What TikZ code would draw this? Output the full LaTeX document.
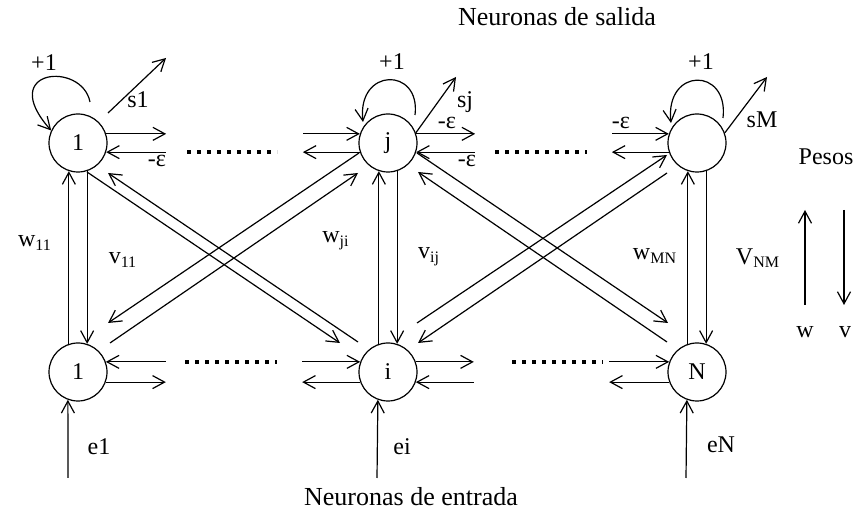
\documentclass[tikz,border=0pt]{standalone}
\usepackage{fontspec}
\setmainfont{Liberation Serif}
\usetikzlibrary{arrows.meta, calc}

\begin{document}
\begin{tikzpicture}[
        x=0.5pt, y=0.5pt,
        line width=0.6pt,
        >={Straight Barb[length=6pt,width=6.5pt]},
        neuron/.style={circle, draw, minimum size=29pt, inner sep=0pt, font=\fontsize{12}{14}\selectfont},
        lbl/.style={inner sep=1pt, font=\fontsize{12}{14}\selectfont},
        title/.style={inner sep=1pt, font=\fontsize{13}{15}\selectfont},
        dots/.style={line width=2pt, dash pattern=on 2pt off 3pt}
    ]
    \useasboundingbox (0,0) rectangle (856,513);

    % Neurons
    \node[neuron] (o1) at (78,370) {1};
    \node[neuron] (oj) at (388,370) {j};
    \node[neuron] (oM) at (697,370) {};
    \node[neuron] (i1) at (78,141) {1};
    \node[neuron] (ii) at (388,141) {i};
    \node[neuron] (iN) at (697,141) {N};

    % Titles
    \node[title] (salida) at (557,496) {Neuronas de salida};
    \node[title] (entrada) at (411,16) {Neuronas de entrada};

    % Vertical weights
    \foreach \a/\b in {o1/i1, oj/ii, oM/iN} {
        \draw[->] (\b.108) -- (\a.-108);
        \draw[->] (\a.-72) -- (\b.72);
    }
    \node[lbl] at (35,270) {w\textsubscript{11}};
    \node[lbl] at (123,253) {v\textsubscript{11}};
    \node[lbl] at (336,272) {w\textsubscript{ji}};
    \node[lbl] at (429,256) {v\textsubscript{ij}};
    \node[lbl] at (655,257) {w\textsubscript{MN}};
    \node[lbl] at (758,255) {V\textsubscript{NM}};

    % Crossed weights
    \draw[->] ($(o1)+(9,-29)$) -- ($(ii)+(-48,29)$);
    \draw[->] ($(ii)+(-30,30)$) -- ($(o1)+(30,-30)$);
    \draw[->] ($(oj)+(-29,-10)$) -- ($(i1)+(30,49)$);
    \draw[->] ($(i1)+(32,29)$) -- ($(oj)+(-30,-30)$);
    \draw[->] ($(oj)+(29,-10)$) -- ($(iN)+(-29,49)$);
    \draw[->] ($(iN)+(-30,30)$) -- ($(oj)+(30,-29)$);
    \draw[->] ($(ii)+(29,49)$) -- ($(oM)+(-30,-12)$);
    \draw[->] ($(oM)+(-30,-30)$) -- ($(ii)+(30,29)$);

    % Lateral connections
    \foreach \n/\a/\d in {o1/18/60, oj/-162/-57, oj/18/59, oM/-162/-57,
                          i1/-20/60, ii/-160/-58, ii/20/58, iN/-160/-60}
        \draw[->] (\n.\a) -- ++(\d,0);
    \foreach \n/\a/\d in {o1/-18/60, oj/162/-57, oj/-18/59, oM/162/-57,
                          i1/20/60, ii/160/-58, ii/-20/58, iN/160/-60}
        \draw[<-] (\n.\a) -- ++(\d,0);
    \node[lbl] at (157,352) {-ε};
    \node[lbl] at (447,390) {-ε};
    \node[lbl] at (467,352) {-ε};
    \node[lbl] at (621,390) {-ε};

    \draw[dots] (187,361) -- (277,361);
    \draw[dots] (495,361) -- (587,361);
    \draw[dots] (185,151) -- (277,151);
    \draw[dots] (512,151) -- (603,151);

    % Self loops
    \draw[->] ($(o1)+(12,41)$) .. controls +(-8,41) and +(-55,62) .. (o1.155);
    \draw[->] ($(oj)+(27,28)$) .. controls +(6,48) and +(-6,55) .. ($(oj)+(-25,21)$);
    \draw[->] ($(oM)+(26,25)$) .. controls +(6,51) and +(-6,56) .. ($(oM)+(-26,20)$);
    \node[lbl] at (44,450) {+1};
    \node[lbl] at (392,451) {+1};
    \node[lbl] at (701,451) {+1};

    % Outputs
    \coordinate (s1) at (166,455);
    \coordinate (sj) at (456,436);
    \coordinate (sM) at (767,436);
    \draw[->] ($(o1)+(30,30)$) -- (s1);
    \draw[->] (oj.20) -- (sj);
    \draw[->] (oM.20) -- (sM);
    \node[lbl] at (138,413) {s1};
    \node[lbl] at (465,411) {sj};
    \node[lbl] at (762,393) {sM};

    % Inputs
    \coordinate (e1) at (68,35);
    \coordinate (ei) at (377,35);
    \coordinate (eN) at (686,35);
    \draw[->] (e1) -- (i1.-110);
    \draw[->] (ei) -- (ii.-110);
    \draw[->] (eN) -- (iN.-110);
    \node[lbl] at (99,66) {e1};
    \node[lbl] at (402,66) {ei};
    \node[lbl] at (721,68) {eN};

    % Legend
    \node[lbl] (pesos) at (826,356) {Pesos};
    \node[lbl] (legw) at (805,181) {w};
    \node[lbl] (legv) at (845,181) {v};
    \coordinate (wtop) at (805,303);
    \coordinate (vbot) at (844,208);
    \draw[->] (legw |- vbot) -- (wtop);
    \draw[->] (vbot |- wtop) -- (vbot);
\end{tikzpicture}
\end{document}
